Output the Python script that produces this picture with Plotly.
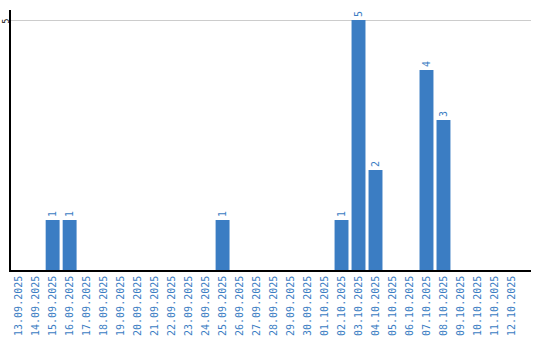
import plotly.graph_objects as go

dates = ["13.09.2025","14.09.2025","15.09.2025","16.09.2025","17.09.2025","18.09.2025",
         "19.09.2025","20.09.2025","21.09.2025","22.09.2025","23.09.2025","24.09.2025",
         "25.09.2025","26.09.2025","27.09.2025","28.09.2025","29.09.2025","30.09.2025",
         "01.10.2025","02.10.2025","03.10.2025","04.10.2025","05.10.2025","06.10.2025",
         "07.10.2025","08.10.2025","09.10.2025","10.10.2025","11.10.2025","12.10.2025"]
counts = [0,0,1,1,0,0,0,0,0,0,0,0,1,0,0,0,0,0,0,1,5,2,0,0,4,3,0,0,0,0]
y_ticks = [5]

blue = "#3b7dc3"
texts = [str(v) if v > 0 else "" for v in counts]

fig = go.Figure(go.Bar(
    x=list(range(len(dates))), y=counts, marker_color=blue, marker_line_width=0,
    text=texts, textposition="outside", textangle=-90, cliponaxis=False,
    textfont=dict(family="DejaVu Sans Mono", size=10, color=blue),
))
for t in y_ticks:
    fig.add_annotation(x=0, xref="paper", y=t, yref="y", text=str(t), showarrow=False,
                       xanchor="right", yanchor="middle", textangle=-90, xshift=1, yshift=-1,
                       font=dict(family="DejaVu Sans Mono", size=8, color="black"))
fig.update_layout(
    width=540, height=340, margin=dict(l=11, r=9, t=10, b=70),
    paper_bgcolor="white", plot_bgcolor="white", bargap=0.18, showlegend=False,
    xaxis=dict(tickmode="array", tickvals=list(range(len(dates))), ticktext=dates,
               tickangle=-90, range=[-0.45, 30.15], showgrid=False, showline=True,
               linecolor="black", linewidth=1.5, ticks="", automargin=False,
               tickfont=dict(family="DejaVu Sans Mono", size=10, color=blue)),
    yaxis=dict(range=[0, 5.2], tickvals=y_ticks, showticklabels=False,
               showgrid=True, gridcolor="#cccccc", gridwidth=1, showline=True,
               linecolor="black", linewidth=1.5, zeroline=False, ticks="",
               automargin=False),
)
fig.write_html("out.html")
